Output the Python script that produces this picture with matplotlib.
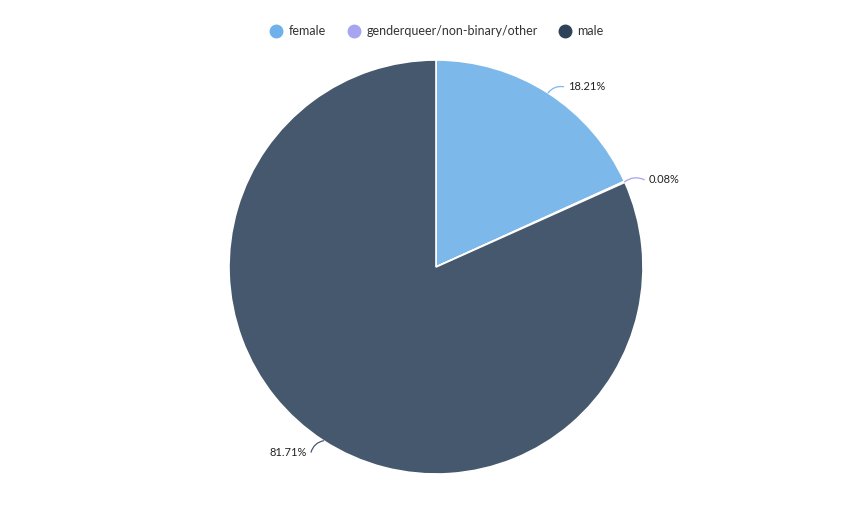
import numpy as np
import matplotlib.pyplot as plt
from matplotlib.lines import Line2D

plt.rcParams['font.family'] = ['Lato', 'DejaVu Sans']

LABELS = ['female', 'genderqueer/non-binary/other', 'male']
SHARES = [18.21, 0.08, 81.71]
PIE_COLORS = ['#7cb8ea', '#a5a3ee', '#46586e']
LEGEND_COLORS = ['#6fb1ea', '#a8a5f0', '#2e4259']

W, H = 849, 511
CX, CY, R = 436, 267, 207

fig = plt.figure(figsize=(W / 100, H / 100), dpi=100)
ax = fig.add_axes([(CX - R) / W, (H - CY - R) / H, 2 * R / W, 2 * R / H])
wedges, _ = ax.pie(SHARES, colors=PIE_COLORS, startangle=90, counterclock=False,
                   radius=1.0, wedgeprops=dict(edgecolor='white', linewidth=1.2))
ax.set_xlim(-1, 1)
ax.set_ylim(-1, 1)
ax.set_aspect('equal')
ax.axis('off')

# labels with small curved connectors
for w, val, col in zip(wedges, SHARES, PIE_COLORS):
    mid = np.deg2rad((w.theta1 + w.theta2) / 2)
    x0, y0 = np.cos(mid), np.sin(mid)
    side = 1 if x0 >= 0 else -1
    if y0 > 0.5:
        xt, yt = x0 + 0.075, y0 + 0.03
    elif y0 > 0:
        xt, yt = x0 + 0.095, y0 + 0.01
    else:
        xt, yt = x0 - 0.06, y0 - 0.055
    ax.annotate(f'{val:.2f}%', xy=(x0, y0), xytext=(xt + side * 0.02, yt),
                ha='left' if side > 0 else 'right', va='center',
                fontsize=8, color='#222222', annotation_clip=False)
    ax.annotate('', xy=(x0, y0), xytext=(xt, yt), annotation_clip=False,
                arrowprops=dict(arrowstyle='-', color=col, lw=0.9,
                                shrinkA=0, shrinkB=0,
                                connectionstyle=f'arc3,rad={0.3 * side}'))

handles = [Line2D([], [], marker='o', linestyle='', markersize=9,
                  markerfacecolor=c, markeredgecolor=c) for c in LEGEND_COLORS]
fig.legend(handles, LABELS, loc='center', bbox_to_anchor=(437 / W, 1 - 31 / H),
           ncol=3, frameon=False, fontsize=9, handletextpad=0.5,
           handlelength=1.0, columnspacing=1.7, labelcolor='#333333')

fig.savefig('out.png', dpi=100)
